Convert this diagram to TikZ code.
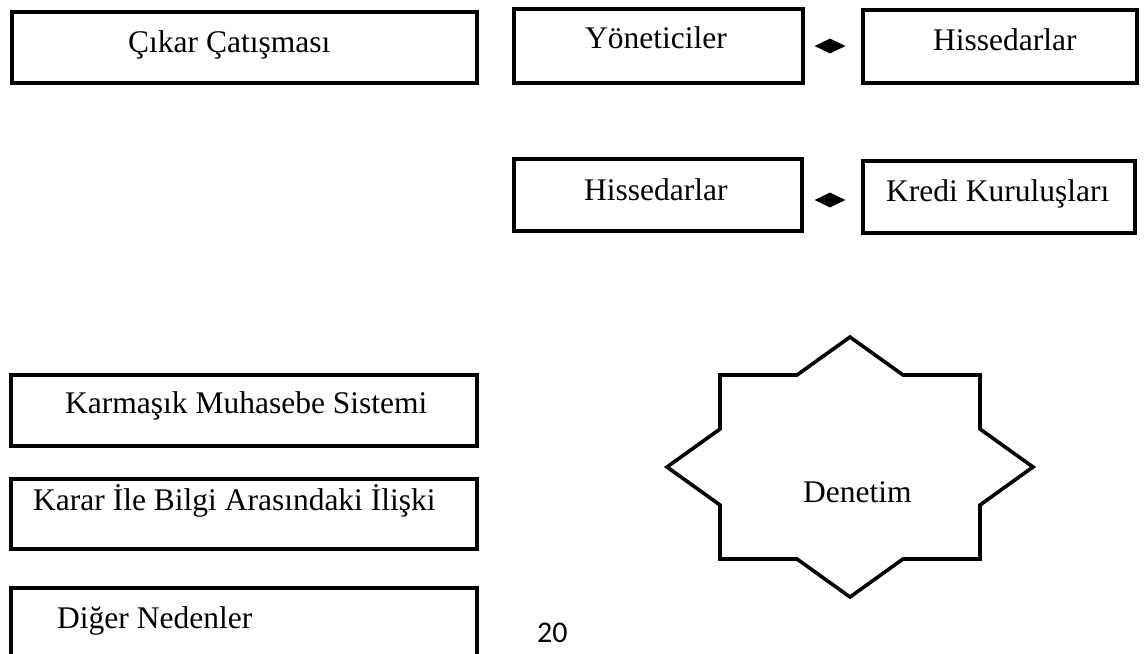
\documentclass[tikz,border=0pt]{standalone}
\usepackage{fontspec}
\setmainfont{Liberation Serif}
\newfontfamily\pagenumfont{Carlito}
\usetikzlibrary{shapes.geometric}
\begin{document}
\begin{tikzpicture}[x=1pt, y=-1pt,
  box/.style={draw=black, line width=3.6pt, inner sep=0pt, outer sep=0pt},
  txt/.style={inner sep=0pt, anchor=base west, font=\fontsize{31.5}{37}\selectfont},
  link/.style={diamond, fill=black, draw=none, inner sep=0pt,
               minimum width=31pt, minimum height=15pt},
  seal/.style={draw=black, line width=3.6pt, line join=miter}]
  \useasboundingbox (0,0) rectangle (1148,653);

  % top row
  \node[box, minimum width=465pt, minimum height=71pt] (cikar) at (244.5,47.5) {};
  \node[txt] (cikarT) at (128,52) {Çıkar Çatışması};

  \node[box, minimum width=289pt, minimum height=74pt] (yon) at (658.5,46) {};
  \node[txt] (yonT) at (585,48) {Yöneticiler};
  \node[link] (d1) at (830,46) {};
  \node[box, minimum width=274pt, minimum height=73pt] (his1) at (1000,46.5) {};
  \node[txt] (his1T) at (933,50) {Hissedarlar};

  % second row
  \node[box, minimum width=288pt, minimum height=72pt] (his2) at (658,195) {};
  \node[txt] (his2T) at (584,200) {Hissedarlar};
  \node[link] (d2) at (830,200) {};
  \node[box, minimum width=272pt, minimum height=72pt] (kredi) at (999,197) {};
  \node[txt] (krediT) at (886,201) {Kredi Kuruluşları};

  % left column
  \node[box, minimum width=466pt, minimum height=71pt] (karm) at (244,410.5) {};
  \node[txt] (karmT) at (65,413) {Karmaşık Muhasebe Sistemi};
  \node[box, minimum width=466pt, minimum height=70pt] (karar) at (244,514) {};
  \node[txt] (kararT) at (33,510) {Karar İle Bilgi Arasındaki İlişki};
  \node[box, minimum width=466pt, minimum height=72pt] (diger) at (244,624) {};
  \node[txt] (digerT) at (57,628) {Diğer Nedenler};

  % eight-pointed seal
  \draw[seal] (850,337) -- (903,375) -- (980,375) -- (980,429) -- (1033,467)
    -- (980,505) -- (980,559) -- (903,559) -- (850,597) -- (797,559)
    -- (720,559) -- (720,505) -- (667,467) -- (720,429) -- (720,375)
    -- (797,375) -- cycle;
  \node[txt] (denT) at (803,502) {Denetim};

  % page number
  \node[inner sep=0pt, anchor=base west, font=\pagenumfont\fontsize{30}{36}\selectfont]
    (pnum) at (537,642) {20};
\end{tikzpicture}
\end{document}
